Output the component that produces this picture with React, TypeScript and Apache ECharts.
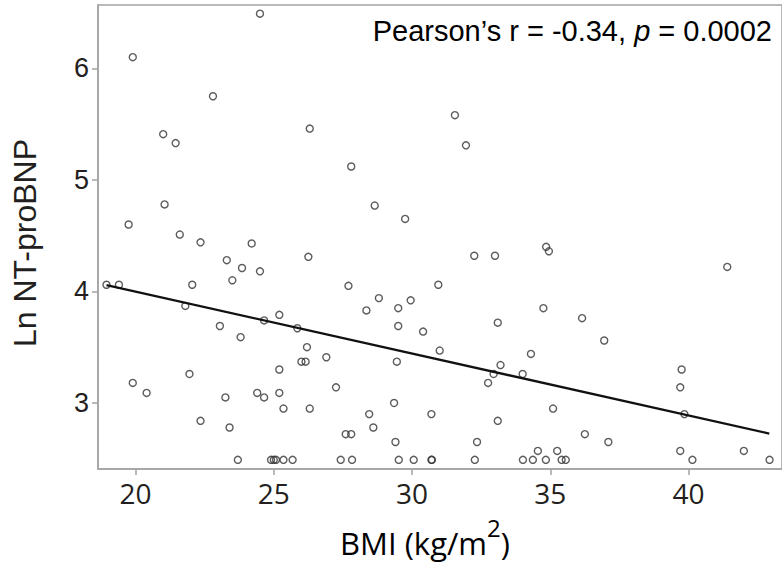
import React, { useEffect, useRef } from "react";
import * as echarts from "echarts";

// BMI (kg/m2) values
const bmi = [
  24.5, 19.9, 22.8, 26.3, 21.0, 21.45, 21.05, 19.75, 21.6, 31.55, 31.95, 27.8, 28.65, 29.75,
  22.35, 24.2, 26.25, 23.3, 23.85, 24.5, 23.5, 18.95, 19.4, 22.05, 21.8, 25.2, 24.65, 25.85,
  23.05, 23.8, 26.2, 26.9, 26.0, 26.15, 25.2, 21.95, 19.9, 20.4, 24.4, 25.2, 23.25, 24.65,
  25.35, 26.3, 22.35, 23.4,
  32.25, 33.0, 34.85, 34.95, 27.7, 30.95, 28.8, 28.35, 29.5, 29.95, 29.5, 30.4, 34.75, 33.1,
  31.0, 29.45, 34.3, 33.2, 32.95, 34.0, 32.75, 27.25, 29.35, 28.45, 30.7, 35.1, 28.6, 33.1,
  27.6, 27.8, 29.4, 32.35, 34.55, 35.25,
  41.4, 36.15, 36.95, 39.75, 39.7, 39.85, 36.25, 37.1, 39.7, 42.0,
  23.7, 24.9, 25.0, 25.08, 25.35, 25.68, 27.42, 27.83, 29.52, 30.06, 30.7, 30.72, 32.27, 34.01,
  34.37, 34.84, 35.41, 35.56, 40.14, 42.93,
];

// Ln NT-proBNP values
const lnNtProBnp = [
  6.49, 6.1, 5.75, 5.46, 5.41, 5.33, 4.78, 4.6, 4.51, 5.58, 5.31, 5.12, 4.77, 4.65,
  4.44, 4.43, 4.31, 4.28, 4.21, 4.18, 4.1, 4.06, 4.06, 4.06, 3.87, 3.79, 3.74, 3.67,
  3.69, 3.59, 3.5, 3.41, 3.37, 3.37, 3.3, 3.26, 3.18, 3.09, 3.09, 3.09, 3.05, 3.05,
  2.95, 2.95, 2.84, 2.78,
  4.32, 4.32, 4.4, 4.36, 4.05, 4.06, 3.94, 3.83, 3.85, 3.92, 3.69, 3.64, 3.85, 3.72,
  3.47, 3.37, 3.44, 3.34, 3.26, 3.26, 3.18, 3.14, 3.0, 2.9, 2.9, 2.95, 2.78, 2.84,
  2.72, 2.72, 2.65, 2.65, 2.57, 2.57,
  4.22, 3.76, 3.56, 3.3, 3.14, 2.9, 2.72, 2.65, 2.57, 2.57,
  2.49, 2.49, 2.49, 2.49, 2.49, 2.49, 2.49, 2.49, 2.49, 2.49, 2.49, 2.49, 2.49, 2.49,
  2.49, 2.49, 2.49, 2.49, 2.49, 2.49,
];

// Fitted regression line end points
const fitBmi = [18.95, 42.92];
const fitLn = [4.056, 2.726];

const xTicks = [20, 25, 30, 35, 40];
const yTicks = [3, 4, 5, 6];

const statText = "Pearson\u2019s r = -0.34, ";
const statP = "p";
const statTail = " = 0.0002";

export default function App() {
  const ref = useRef<HTMLDivElement>(null);
  useEffect(() => {
    if (!ref.current) return;
    const chart = echarts.init(ref.current, null, { renderer: "svg" });
    const points = bmi.map((x, i) => [x, lnNtProBnp[i]]);
    const fit = fitBmi.map((x, i) => [x, fitLn[i]]);
    const axisGray = "#a3a3a3";
    const textColor = "#231f20";
    chart.setOption({
      animation: false,
      grid: {
        left: 98,
        top: 5,
        right: -3,
        bottom: 99,
        show: true,
        borderColor: axisGray,
        borderWidth: 1.5,
      },
      xAxis: {
        type: "value",
        min: 18.642,
        max: 43.38,
        splitLine: { show: false },
        axisLine: { show: true, lineStyle: { color: axisGray, width: 1.5 } },
        axisTick: {
          show: true,
          customValues: xTicks,
          length: 6,
          lineStyle: { color: axisGray, width: 1.5 },
        },
        axisLabel: {
          customValues: xTicks,
          fontFamily: "'Open Sans', sans-serif",
          fontSize: 28,
          color: textColor,
          margin: 10,
        },
      },
      yAxis: {
        type: "value",
        min: 2.408,
        max: 6.568,
        splitLine: { show: false },
        axisLine: { show: true, lineStyle: { color: axisGray, width: 1.5 } },
        axisTick: {
          show: true,
          customValues: yTicks,
          length: 6,
          lineStyle: { color: axisGray, width: 1.5 },
        },
        axisLabel: {
          customValues: yTicks,
          fontFamily: "'Liberation Sans', Arial, sans-serif",
          fontSize: 27,
          color: textColor,
          margin: 9,
        },
      },
      graphic: [
        {
          type: "text",
          x: 25,
          y: 243,
          rotation: Math.PI / 2,
          style: {
            text: "Ln NT-proBNP",
            fontFamily: "'Liberation Sans', Arial, sans-serif",
            fontSize: 32,
            fill: textColor,
            align: "center",
            verticalAlign: "middle",
          },
        },
        {
          type: "text",
          x: 425,
          y: 543,
          style: {
            text: "{a|BMI (kg/m}{s|2}{a|)}",
            align: "center",
            verticalAlign: "middle",
            rich: {
              a: {
                fontFamily: "'Open Sans', sans-serif",
                fontSize: 31,
                lineHeight: 56,
                color: textColor,
                verticalAlign: "middle",
              },
              s: {
                fontFamily: "'Open Sans', sans-serif",
                fontSize: 24,
                lineHeight: 24,
                color: textColor,
                verticalAlign: "top",
              },
            },
          },
        },
        {
          type: "text",
          x: 772,
          y: 31,
          style: {
            text: "{a|" + statText + "}{i|" + statP + "}{a|" + statTail + "}",
            align: "right",
            verticalAlign: "middle",
            rich: {
              a: {
                fontFamily: "'Liberation Sans', Arial, sans-serif",
                fontSize: 29,
                color: textColor,
              },
              i: {
                fontFamily: "'Liberation Sans', Arial, sans-serif",
                fontSize: 29,
                fontStyle: "italic",
                color: textColor,
              },
            },
          },
        },
      ],
      series: [
        {
          type: "scatter",
          data: points,
          symbol: "circle",
          symbolSize: 7,
          itemStyle: { color: "rgba(0,0,0,0)", borderColor: "#333", borderWidth: 1.4 },
          z: 3,
        },
        {
          type: "line",
          data: fit,
          showSymbol: false,
          symbol: "none",
          lineStyle: { color: "#111", width: 2.3 },
          z: 4,
        },
      ],
    });
    return () => chart.dispose();
  }, []);
  return (
    <div
      ref={ref}
      style={{ position: "fixed", left: 0, top: 0, width: 782, height: 568, background: "#fff" }}
    />
  );
}
